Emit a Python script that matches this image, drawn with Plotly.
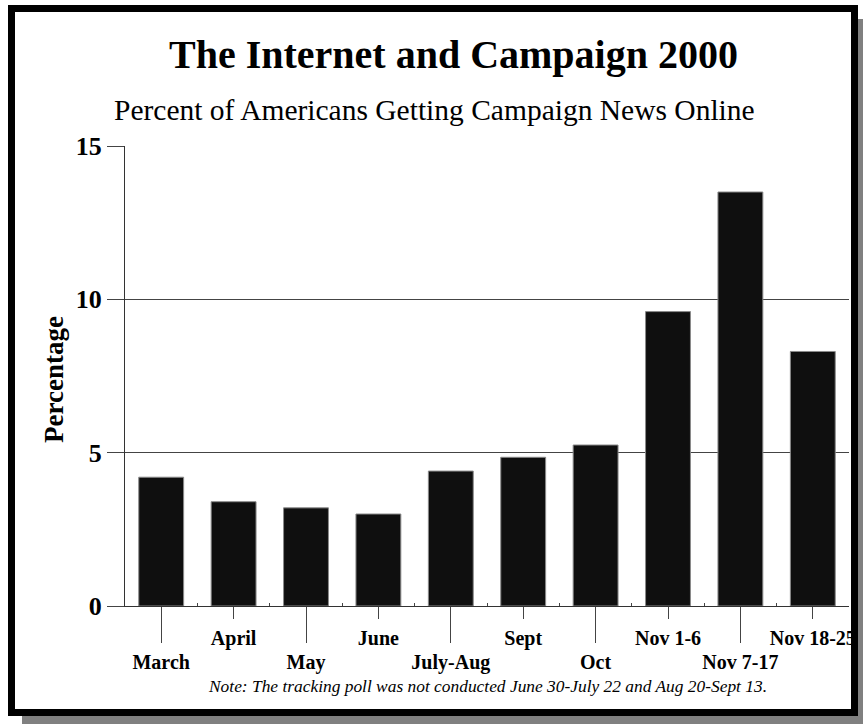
import plotly.graph_objects as go

categories = ["March", "April", "May", "June", "July-Aug", "Sept", "Oct",
              "Nov 1-6", "Nov 7-17", "Nov 18-25"]
values = [4.2, 3.4, 3.2, 3.0, 4.4, 4.85, 5.25, 9.6, 13.5, 8.3]
y_ticks = [0, 5, 10, 15]

title_text = "The Internet and Campaign 2000"
subtitle_text = "Percent of Americans Getting Campaign News Online"
note_text = "Note: The tracking poll was not conducted June 30-July 22 and Aug 20-Sept 13."
y_title = "Percentage"

W, H = 863, 724
L, R, T, B = 125, 849, 146, 606
FONT = "Liberation Serif"


def px(x):
    return (x - L) / (R - L)


def py(y):
    return (B - y) / (B - T)


idx = list(range(len(categories)))
lower_idx = idx[0::2]
upper_idx = idx[1::2]

fig = go.Figure()
fig.add_trace(go.Bar(
    x=idx, y=values, width=0.62,
    marker=dict(color="#0f0f0f", line=dict(color="#8a8a8a", width=1)),
    hoverinfo="x+y",
))

fig.update_layout(
    width=W, height=H,
    margin=dict(l=L, r=W - R, t=T, b=H - B, autoexpand=False),
    paper_bgcolor="white", plot_bgcolor="white",
    showlegend=False,
    font=dict(family=FONT, color="black"),
    bargap=0.38,
    xaxis=dict(
        range=[-0.5, len(categories) - 0.5],
        automargin=False,
        tickmode="array",
        tickvals=lower_idx,
        ticktext=[categories[i] for i in lower_idx],
        ticks="outside", ticklen=36, tickwidth=1, tickcolor="#444",
        ticklabelstandoff=2,
        tickfont=dict(family=FONT, size=20, weight="bold", color="black"),
        showline=True, linecolor="#333", linewidth=1,
        showgrid=False, zeroline=False,
        minor=dict(tickvals=[i - 0.5 for i in idx[1:]], ticks="inside",
                   ticklen=3, tickcolor="#444", showgrid=False),
    ),
    xaxis2=dict(
        matches="x", overlaying="x", anchor="y", side="bottom",
        automargin=False,
        tickmode="array",
        tickvals=upper_idx,
        ticktext=[categories[i] for i in upper_idx],
        ticks="outside", ticklen=12, tickwidth=1, tickcolor="#444",
        ticklabelstandoff=2,
        tickfont=dict(family=FONT, size=20, weight="bold", color="black"),
        showline=False, showgrid=False, zeroline=False,
    ),
    yaxis=dict(
        range=[0, 15],
        automargin=False,
        tickmode="array", tickvals=y_ticks,
        ticks="outside", ticklen=17, tickwidth=1, tickcolor="#444",
        tickfont=dict(family=FONT, size=26, weight="bold", color="black"),
        showline=True, linecolor="#333", linewidth=1,
        showgrid=True, gridcolor="#444", gridwidth=1,
        zeroline=False,
    ),
)

# invisible trace to activate xaxis2
fig.add_trace(go.Scatter(x=[idx[0]], y=[0], xaxis="x2", mode="markers",
                         marker=dict(opacity=0), hoverinfo="skip"))

annotations = [
    dict(text="<b>" + title_text + "</b>", x=px(453.5), y=py(55),
         xref="paper", yref="paper", showarrow=False,
         font=dict(family=FONT, size=40, color="black"),
         xanchor="center", yanchor="middle"),
    dict(text=subtitle_text, x=px(434), y=py(110),
         xref="paper", yref="paper", showarrow=False,
         font=dict(family=FONT, size=29.5, color="black"),
         xanchor="center", yanchor="middle"),
    dict(text="<i>" + note_text + "</i>", x=px(487), y=py(686),
         xref="paper", yref="paper", showarrow=False,
         font=dict(family=FONT, size=17.4, color="black"),
         xanchor="center", yanchor="middle"),
    dict(text="<b>" + y_title + "</b>", x=px(54), y=py(380),
         xref="paper", yref="paper", showarrow=False, textangle=-90,
         font=dict(family=FONT, size=27, color="black"),
         xanchor="center", yanchor="middle"),
]
fig.update_layout(annotations=annotations)

shapes = [
    # drop shadow strips
    dict(type="rect", xref="paper", yref="paper",
         x0=px(858), x1=px(875), y0=py(19), y1=py(735),
         fillcolor="#808080", line=dict(width=0), layer="above"),
    dict(type="rect", xref="paper", yref="paper",
         x0=px(22), x1=px(875), y0=py(716), y1=py(735),
         fillcolor="#808080", line=dict(width=0), layer="above"),
    # black frame
    dict(type="rect", xref="paper", yref="paper",
         x0=px(11.5), x1=px(854.5), y0=py(8.5), y1=py(712.5),
         fillcolor="rgba(0,0,0,0)", line=dict(color="black", width=7),
         layer="above"),
]
fig.update_layout(shapes=shapes)

fig.write_html("out.html")
